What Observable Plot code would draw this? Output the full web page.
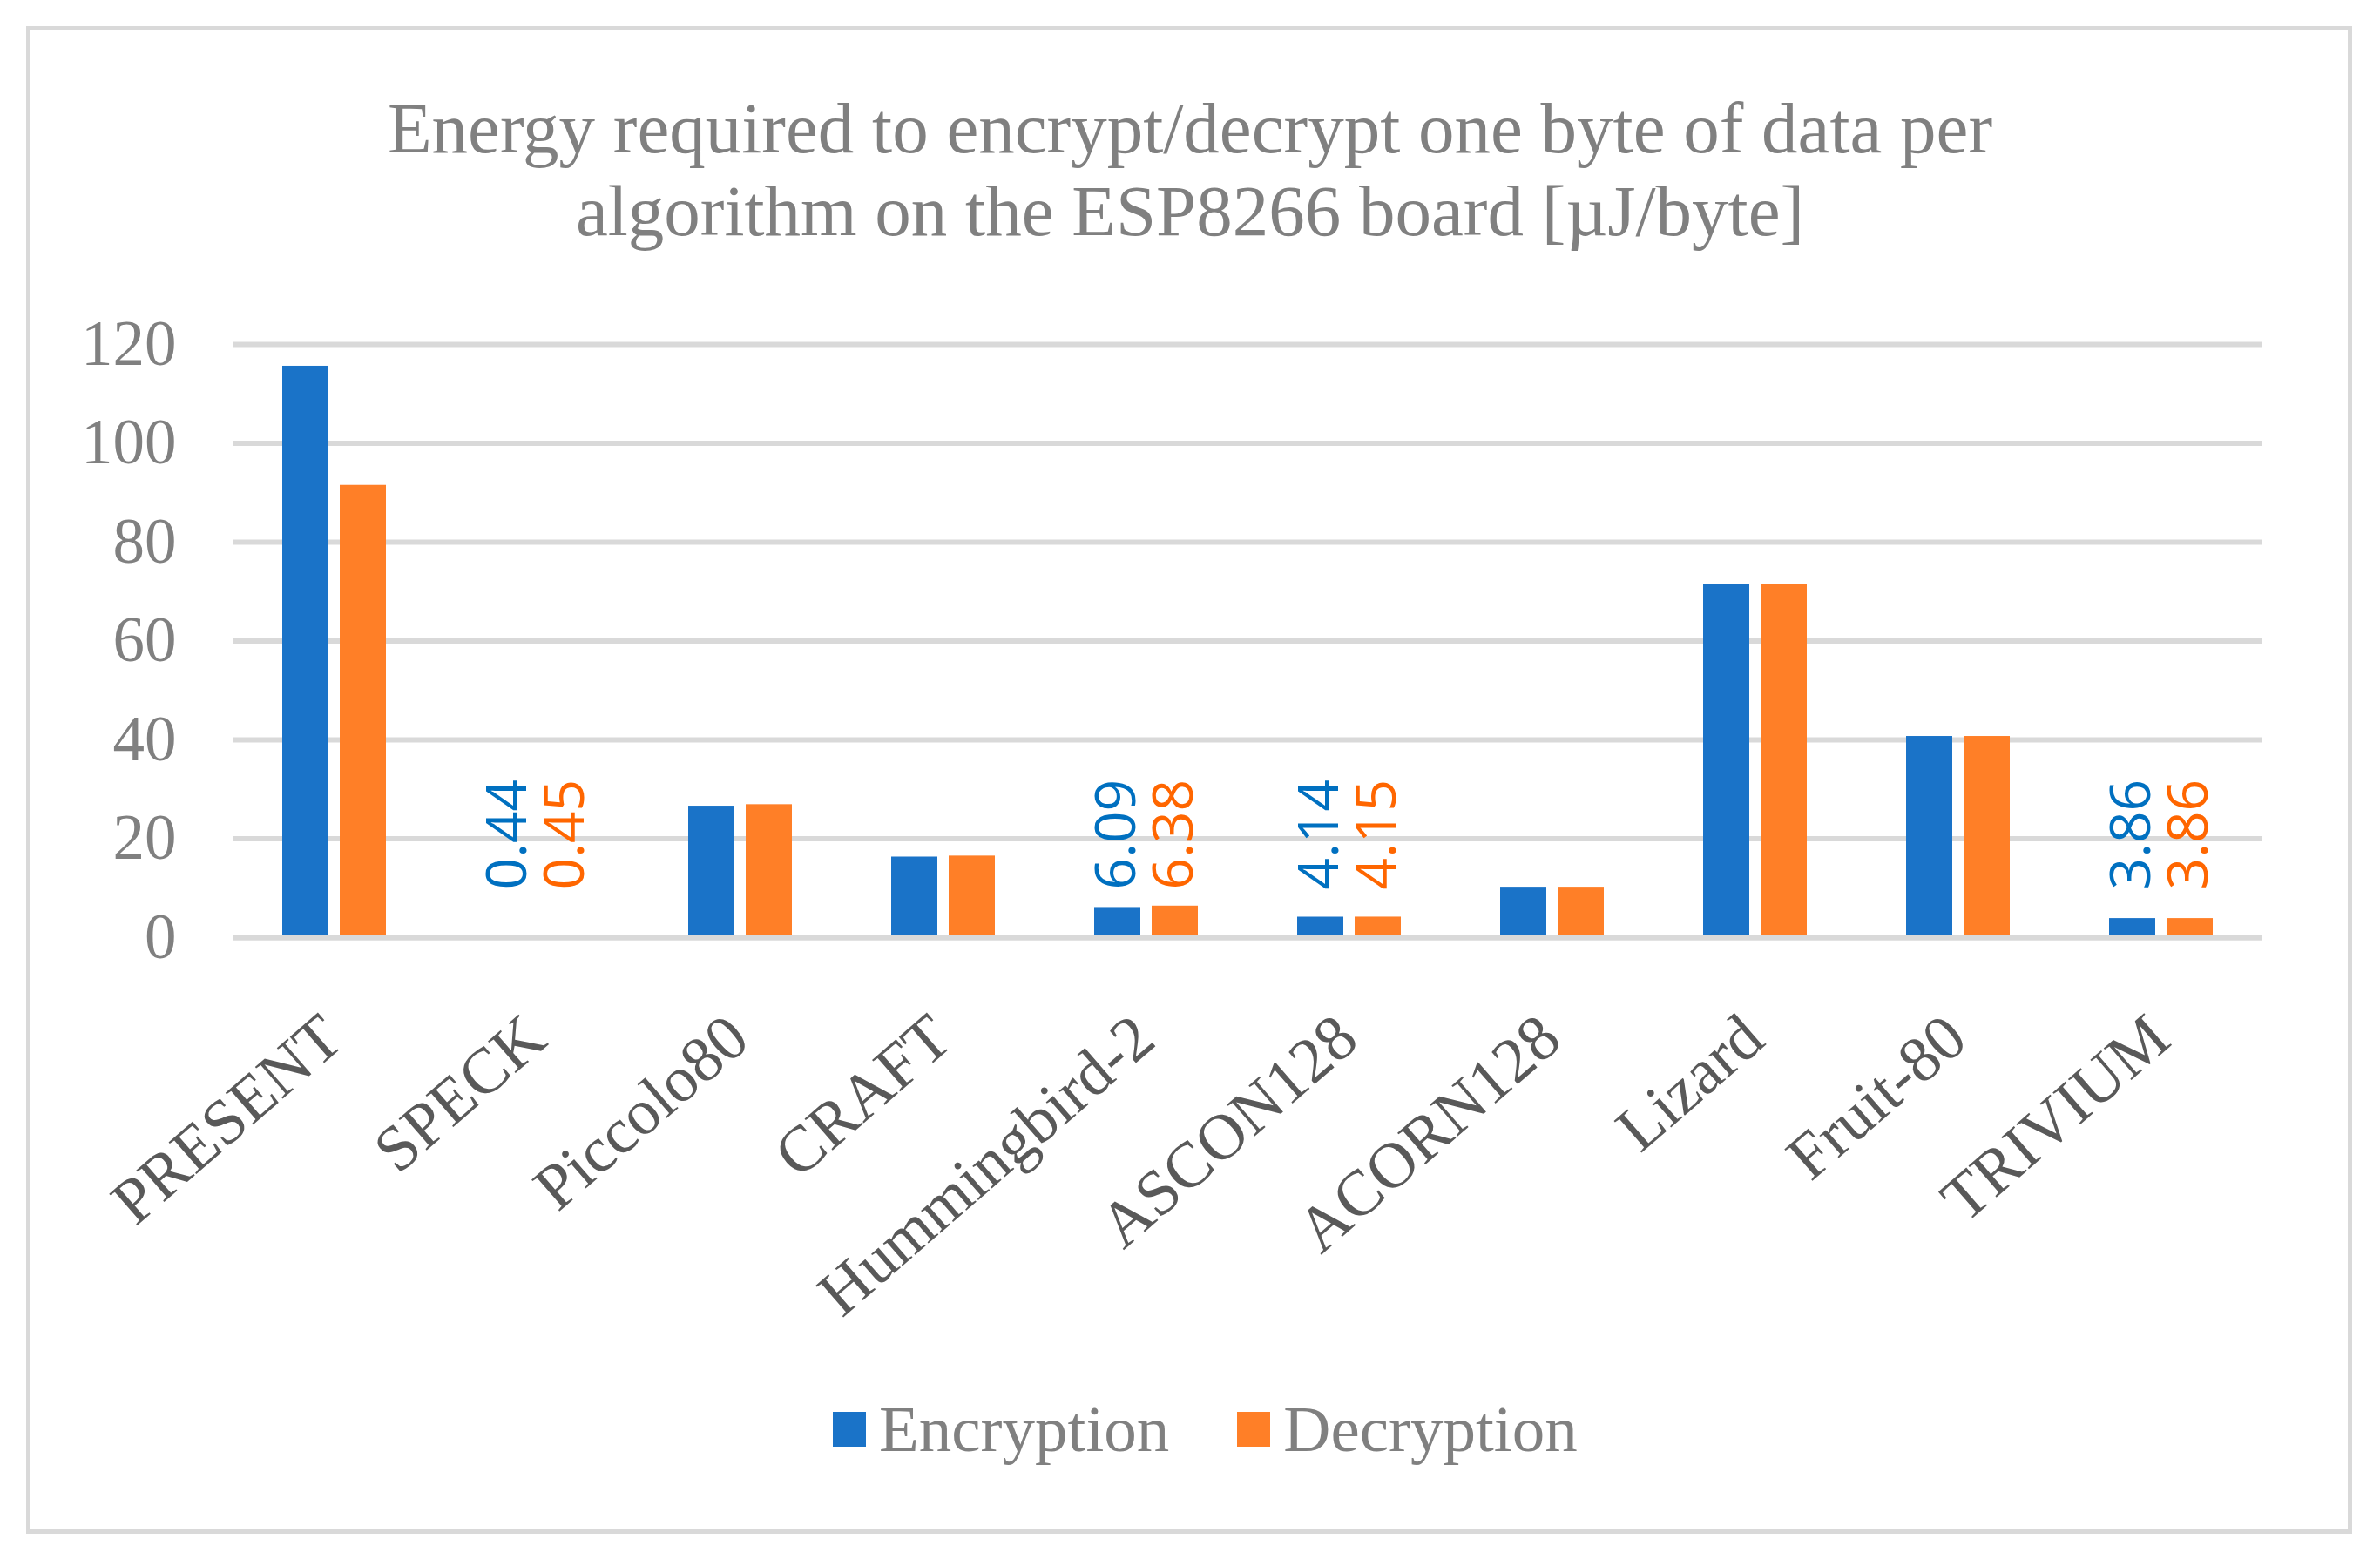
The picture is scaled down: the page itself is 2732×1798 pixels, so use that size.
<!DOCTYPE html>
<html>
<head>
<meta charset="utf-8">
<script src="https://cdn.jsdelivr.net/npm/d3@7"></script>
<script src="https://cdn.jsdelivr.net/npm/@observablehq/plot@0.6"></script>
<style>
  body { margin: 0; background: #fff; }
  #frame { position: relative; width: 2732px; height: 1798px; font-family: "Liberation Serif", serif; }
  #border { position: absolute; left: 30px; top: 30px; width: 2660px; height: 1721px; border: 5px solid #d9d9d9; }
  #title { position: absolute; left: 31px; width: 2670px; top: 100px; text-align: center;
           font-size: 83px; line-height: 95px; color: #808080; }
  #chart { position: absolute; left: 0; top: 300px; }
  #legend { position: absolute; left: 956px; top: 1591px; height: 100px; display: flex; align-items: center;
            font-size: 75px; color: #808080; }
  #legend .sw { width: 38px; height: 40px; margin-right: 15px; }
  #legend .item { display: flex; align-items: center; margin-right: 78px; }
</style>
</head>
<body>
<div id="frame">
  <div id="border"></div>
  <div id="title">Energy required to encrypt/decrypt one byte of data per<br>algorithm on the ESP8266 board [µJ/byte]</div>
  <div id="chart"></div>
  <div id="legend"></div>
</div>
<script>
// values, µJ per byte
const algorithms = ["PRESENT", "SPECK", "Piccolo80", "CRAFT", "Hummingbird-2", "ASCON128", "ACORN128", "Lizard", "Fruit-80", "TRIVIUM"];
const encryption = [115.6, 0.44, 26.6, 16.3, 6.09, 4.14, 10.2, 71.4, 40.7, 3.86];
const decryption = [91.5, 0.45, 26.9, 16.5, 6.38, 4.15, 10.2, 71.4, 40.7, 3.86];
const seriesNames = ["Encryption", "Decryption"];
const barColors = ["#1a73c8", "#ff7f27"];
const labelColors = ["#0070c0", "#ff6600"];
const labelled = ["SPECK", "Hummingbird-2", "ASCON128", "TRIVIUM"];
const yTicks = [0, 20, 40, 60, 80, 100, 120];

const data = algorithms.flatMap((a, i) => [
  {algorithm: a, series: "Encryption", value: encryption[i]},
  {algorithm: a, series: "Decryption", value: decryption[i]}
]);
const fmt = d3.format(".2f");
const labelBase = 9.7; // labels all start at the same height in the original

const labelMark = (s, c) => Plot.text(
  data.filter(d => d.series === s && labelled.includes(d.algorithm)),
  {fx: "algorithm", x: "series", y: () => labelBase, text: d => fmt(d.value),
   rotate: -90, textAnchor: "start", lineAnchor: "middle",
   fill: c, fontSize: 64, fontFamily: "Open Sans"});

const chart = Plot.plot({
  width: 2732,
  height: 1256,
  marginLeft: 263,
  marginRight: 132,
  marginTop: 95,
  marginBottom: 480,
  style: {fontFamily: "Liberation Serif", background: "transparent"},
  fx: {domain: algorithms, padding: 0, label: null},
  x: {domain: seriesNames, paddingInner: 0.19, paddingOuter: 0.85, axis: null},
  y: {domain: [0, 120], axis: null},
  color: {domain: seriesNames, range: barColors},
  marks: [
    Plot.gridY(yTicks, {stroke: "#d9d9d9", strokeWidth: 6, strokeOpacity: 1}),
    Plot.barY(data, {fx: "algorithm", x: "series", y: "value", fill: "series"}),
    // the zero line sits on top of the bars, hiding the tiny SPECK bars
    Plot.ruleY([0], {stroke: "#d9d9d9", strokeWidth: 6}),
    labelMark("Encryption", labelColors[0]),
    labelMark("Decryption", labelColors[1]),
    Plot.axisY(yTicks, {tickSize: 0, tickPadding: 65, fontSize: 73, fill: "#808080", label: null}),
    Plot.axisFx({anchor: "bottom", tickSize: 0, tickPadding: 104, dx: -2, tickRotate: -41,
                 fontSize: 74, fill: "#595959", label: null})
  ]
});
document.getElementById("chart").append(chart);

const legend = d3.select("#legend");
seriesNames.forEach((s, i) => {
  const item = legend.append("div").attr("class", "item");
  item.append("div").attr("class", "sw").style("background", barColors[i]);
  item.append("span").text(s);
});
</script>
</body>
</html>
